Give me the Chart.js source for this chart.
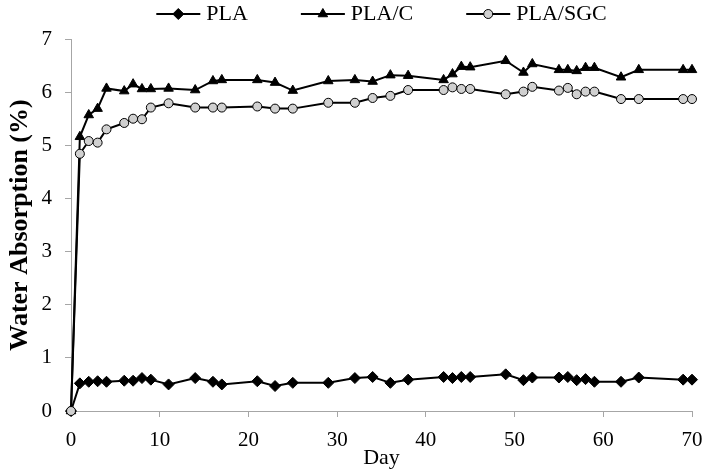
<!DOCTYPE html>
<html>
<head>
<meta charset="utf-8">
<script src="https://cdn.jsdelivr.net/npm/chart.js@4.4.1/dist/chart.umd.min.js"></script>
<style>
  html, body { margin: 0; padding: 0; background: #fff; }
  #wrap { width: 703px; height: 471px; }
</style>
</head>
<body>
<div id="wrap"><canvas id="c" width="703" height="471"></canvas></div>
<script>
const days = [0,1,2,3,4,6,7,8,9,11,14,16,17,21,23,25,29,32,34,36,38,42,43,44,45,49,51,52,55,56,57,58,59,62,64,69,70];
const pla = [0,0.52,0.55,0.56,0.55,0.57,0.57,0.62,0.59,0.50,0.62,0.55,0.50,0.56,0.47,0.53,0.53,0.62,0.64,0.53,0.59,0.64,0.62,0.64,0.64,0.69,0.58,0.63,0.63,0.64,0.58,0.60,0.55,0.55,0.63,0.59,0.59];
const plaC = [0,5.16,5.57,5.69,6.07,6.02,6.15,6.06,6.06,6.07,6.04,6.21,6.23,6.23,6.18,6.03,6.21,6.23,6.20,6.32,6.31,6.23,6.34,6.48,6.47,6.59,6.37,6.53,6.42,6.42,6.40,6.46,6.46,6.28,6.42,6.42,6.42];
const plaSGC = [0,4.84,5.08,5.05,5.30,5.42,5.50,5.49,5.71,5.79,5.71,5.71,5.71,5.73,5.69,5.69,5.80,5.80,5.89,5.93,6.04,6.04,6.09,6.06,6.06,5.96,6.01,6.10,6.03,6.08,5.96,6.01,6.01,5.87,5.87,5.87,5.87];
const seriesNames = ['PLA', 'PLA/C', 'PLA/SGC'];
const xTitle = 'Day';
const yTitle = 'Water Absorption (%)';

const FONT = "'Liberation Serif', 'Times New Roman', serif";
const AXIS_GRAY = '#a6a6a6';

function pts(vals) { return days.map((d, i) => ({x: d, y: vals[i]})); }

const lineLegend = {
  id: 'lineLegend',
  afterDraw(chart) {
    const ctx = chart.ctx;
    ctx.save();
    ctx.font = "22px " + FONT;
    const lineLen = 44, gapText = 6, gapItem = 53;
    const dsList = chart.data.datasets;
    const widths = dsList.map(ds => ctx.measureText(ds.label).width);
    const total = widths.reduce((s, w) => s + lineLen + gapText + w, 0) + gapItem * (dsList.length - 1);
    const cx = (chart.chartArea.left + chart.chartArea.right) / 2;
    let x = cx - total / 2;
    const y = 14;
    dsList.forEach((ds, i) => {
      ctx.strokeStyle = ds.borderColor;
      ctx.lineWidth = ds.borderWidth;
      ctx.beginPath();
      ctx.moveTo(x, y);
      ctx.lineTo(x + lineLen, y);
      ctx.stroke();
      ctx.fillStyle = ds.pointBackgroundColor;
      ctx.strokeStyle = ds.pointBorderColor;
      ctx.lineWidth = ds.pointBorderWidth;
      Chart.helpers.drawPoint(ctx, {pointStyle: ds.pointStyle, radius: ds.pointRadius, borderWidth: ds.pointBorderWidth, rotation: 0}, x + lineLen / 2, y);
      ctx.fillStyle = '#000';
      ctx.textAlign = 'left';
      ctx.textBaseline = 'middle';
      ctx.fillText(ds.label, x + lineLen + gapText, y);
      x += lineLen + gapText + widths[i] + gapItem;
    });
    ctx.restore();
  }
};

const common = {
  borderColor: '#000',
  borderWidth: 2,
  tension: 0,
  pointBorderColor: '#000',
  pointBorderWidth: 1,
  clip: false
};

new Chart(document.getElementById('c'), {
  type: 'line',
  data: {
    datasets: [
      Object.assign({}, common, {label: seriesNames[0], data: pts(pla), pointStyle: 'rectRot', pointRadius: 5.5, pointBackgroundColor: '#000', order: 2}),
      Object.assign({}, common, {label: seriesNames[1], data: pts(plaC), pointStyle: 'triangle', pointRadius: 5.5, pointBackgroundColor: '#000', order: 1}),
      Object.assign({}, common, {label: seriesNames[2], data: pts(plaSGC), pointStyle: 'circle', pointRadius: 4.5, pointBackgroundColor: '#d0d0d0', order: 0})
    ]
  },
  options: {
    responsive: false,
    animation: false,
    layout: { padding: {left: 0, right: 11, top: 39, bottom: 0} },
    plugins: { legend: {display: false}, tooltip: {enabled: false} },
    scales: {
      x: {
        type: 'linear', min: 0, max: 70,
        ticks: { stepSize: 10, color: '#000', font: {family: FONT, size: 21}, padding: 11, maxRotation: 0 },
        grid: { drawOnChartArea: false, drawTicks: true, tickLength: 6, color: AXIS_GRAY },
        border: { color: AXIS_GRAY, width: 1 },
        title: { display: true, text: xTitle, color: '#000', font: {family: FONT, size: 22}, padding: {top: 0, bottom: 0} },
        afterFit(s) { s.height = 60; s.paddingLeft = 0; s.paddingRight = 0; }
      },
      y: {
        min: 0, max: 7,
        ticks: { stepSize: 1, color: '#000', font: {family: FONT, size: 21}, padding: 13 },
        grid: { drawOnChartArea: false, drawTicks: true, tickLength: 6, color: AXIS_GRAY },
        border: { color: AXIS_GRAY, width: 1 },
        title: { display: true, text: yTitle, color: '#000', font: {family: FONT, size: 26, weight: 'bold'}, padding: {top: 5, bottom: 0} },
        afterFit(s) { s.width = 71; }
      }
    }
  },
  plugins: [lineLegend]
});
</script>
</body>
</html>
